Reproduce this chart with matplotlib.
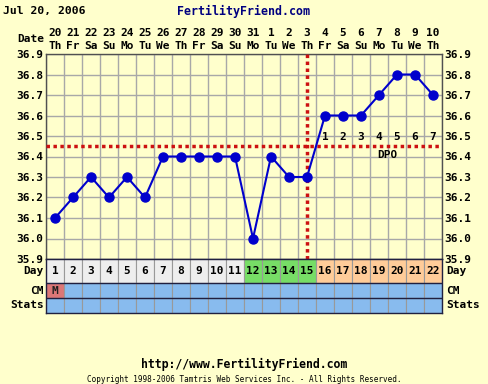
import numpy as np
import matplotlib
matplotlib.use('Agg')
import matplotlib.pyplot as plt
from matplotlib.transforms import blended_transform_factory

# chart data
cycle_days = list(range(1, 23))
dates = ['20', '21', '22', '23', '24', '25', '26', '27', '28', '29', '30', '31',
         '1', '2', '3', '4', '5', '6', '7', '8', '9', '10']
weekdays = ['Th', 'Fr', 'Sa', 'Su', 'Mo', 'Tu', 'We', 'Th', 'Fr', 'Sa', 'Su',
            'Mo', 'Tu', 'We', 'Th', 'Fr', 'Sa', 'Su', 'Mo', 'Tu', 'We', 'Th']
temps = [36.1, 36.2, 36.3, 36.2, 36.3, 36.2, 36.4, 36.4, 36.4, 36.4, 36.4,
         36.0, 36.4, 36.3, 36.3, 36.6, 36.6, 36.6, 36.7, 36.8, 36.8, 36.7]
phase = ['pre'] * 11 + ['fertile'] * 4 + ['post'] * 7
cm_obs = ['M', '', '', '', '', '', '', '', '', '', '', '',
          '', '', '', '', '', '', '', '', '', '']
dpo_days = [16, 17, 18, 19, 20, 21, 22]
dpo_labels = ['1', '2', '3', '4', '5', '6', '7']
coverline = 36.45
ovulation_day = 15
y_ticks = [35.9, 36.0, 36.1, 36.2, 36.3, 36.4, 36.5, 36.6, 36.7, 36.8, 36.9]

BG = '#FFFFCC'
GRID = '#A8A8A8'
EDGE = '#505050'
RED = '#CC1111'
phase_colors = {'pre': '#EEEEEE', 'fertile': '#77DD66', 'post': '#FFCC99'}
BLUE_CELL = '#88BBEE'
M_CELL = '#DD7777'

W, H = 488, 384
mono = {'family': 'DejaVu Sans Mono', 'weight': 'bold'}

fig = plt.figure(figsize=(W / 100, H / 100), dpi=100, facecolor=BG)

# temperature chart
ax = fig.add_axes([46 / W, 1 - 259 / H, 396 / W, 205 / H])
ax.set_facecolor(BG)
ax.set_xlim(0.5, 22.5)
ax.set_ylim(35.9, 36.9)
ax.set_xticks(np.arange(0.5, 23, 1))
ax.set_xticklabels([])
ax.set_yticks(y_ticks)
ax.set_yticklabels(['%.1f' % v for v in y_ticks], fontsize=8, **mono)
ax.tick_params(axis='y', length=0, pad=2, labelright=True)
ax.tick_params(axis='x', length=0)
ax.grid(True, color=GRID, lw=1)
for s in ax.spines.values():
    s.set_color(EDGE)
    s.set_linewidth(1)

ax.plot(cycle_days, temps, color='#0000CC', lw=1.5, marker='o', ms=6.5, zorder=5)

ax.axhline(coverline, color=RED, lw=2.5, ls=(0, (1, 1)), dash_capstyle='butt', zorder=4)
ax.axvline(ovulation_day, color=RED, lw=2.5, ls=(0, (1, 1)), dash_capstyle='butt', zorder=4)

for d, lab in zip(dpo_days, dpo_labels):
    ax.text(d, 36.497, lab, ha='center', va='center', fontsize=8, **mono)
ax.text(19.45, 36.405, 'DPO', ha='center', va='center', fontsize=8, **mono)

# date header
tr = blended_transform_factory(ax.transData, ax.transAxes)
for d, dt, wd in zip(cycle_days, dates, weekdays):
    ax.text(d, 1 + 21 / 205, dt, transform=tr, ha='center', va='center', fontsize=8, **mono)
    ax.text(d, 1 + 8 / 205, wd, transform=tr, ha='center', va='center', fontsize=8, **mono)
ax.text(-2 / 396, 1 + 15 / 205, 'Date', transform=ax.transAxes, ha='right',
        va='center', fontsize=8, **mono)

# table rows below
tax = fig.add_axes([46 / W, 1 - 313 / H, 396 / W, 54 / H])
tax.set_xlim(0.5, 22.5)
tax.set_ylim(54, 0)
tax.set_xticks([])
tax.set_yticks([])
for s in tax.spines.values():
    s.set_color('#202040')
    s.set_linewidth(1)

tax.bar(cycle_days, 24, bottom=0, width=1, color=[phase_colors[p] for p in phase],
        edgecolor='#999999', lw=0.8)
tax.bar(cycle_days, 15, bottom=24, width=1,
        color=[M_CELL if c else BLUE_CELL for c in cm_obs], edgecolor='#999999', lw=0.8)
tax.bar(cycle_days, 15, bottom=39, width=1, color=BLUE_CELL, edgecolor='#999999', lw=0.8)
tax.axhline(24, color='#202040', lw=1)
tax.axhline(39, color='#202040', lw=1)

for d in cycle_days:
    tax.text(d, 12.5, str(d), ha='center', va='center', fontsize=8, **mono)
for d, c in zip(cycle_days, cm_obs):
    if c:
        tax.text(d, 31.5, c, ha='center', va='center', fontsize=8, color='#202020', **mono)

ttr = blended_transform_factory(tax.transAxes, tax.transData)
for lab, yy in [('Day', 12.5), ('CM', 31.5), ('Stats', 46.5)]:
    tax.text(-2 / 396, yy, lab, transform=ttr, ha='right', va='center', fontsize=8, **mono)
    tax.text(1 + 4 / 396, yy, lab, transform=ttr, ha='left', va='center', fontsize=8, **mono)

# titles and footer
fig.text(3 / W, 1 - 11 / H, 'Jul 20, 2006', ha='left', va='center', fontsize=8.2, **mono)
fig.text(244 / W, 1 - 11 / H, 'FertilityFriend.com', ha='center', va='center',
         fontsize=8.4, color='#000080', **mono)
fig.text(244 / W, 1 - 364 / H, 'http://www.FertilityFriend.com', ha='center',
         va='center', fontsize=8.3, **mono)
fig.text(244 / W, 1 - 379 / H,
         'Copyright 1998-2006 Tamtris Web Services Inc. - All Rights Reserved.',
         ha='center', va='center', fontsize=5.5, family='DejaVu Sans Mono')

fig.savefig('out.png', dpi=100, facecolor=BG)
